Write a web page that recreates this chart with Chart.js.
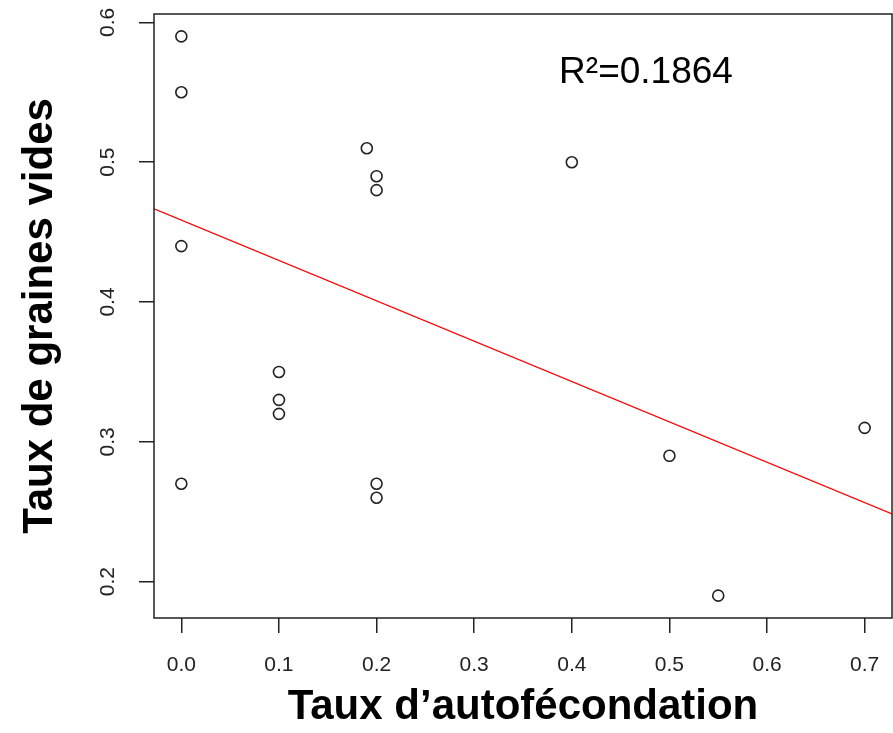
<!DOCTYPE html>
<html>
<head>
<meta charset="utf-8">
<script src="https://cdn.jsdelivr.net/npm/chart.js@4.4.1/dist/chart.umd.min.js"></script>
<style>
  body { margin: 0; background: #fff; }
</style>
</head>
<body>
<canvas id="scatter" width="893" height="733"></canvas>
<script>
// values
var selfing = [0, 0, 0, 0, 0.1, 0.1, 0.1, 0.19, 0.2, 0.2, 0.2, 0.2, 0.4, 0.5, 0.55, 0.7];
var emptySeeds = [0.59, 0.55, 0.44, 0.27, 0.35, 0.33, 0.32, 0.51, 0.49, 0.48, 0.27, 0.26, 0.5, 0.29, 0.19, 0.31];
var xTicks = [0, 0.1, 0.2, 0.3, 0.4, 0.5, 0.6, 0.7];
var yTicks = [0.2, 0.3, 0.4, 0.5, 0.6];
var fitIntercept = 0.4586;
var fitSlope = -0.2887;
var r2Text = "R\u00b2=0.1864";

// R style axis limits (data range + 4%)
var xMin = -0.028, xMax = 0.728;
var yMin = 0.174, yMax = 0.606;

var points = [];
for (var i = 0; i < selfing.length; i++) {
    points.push({x: selfing[i], y: emptySeeds[i]});
}
var fitLine = [
    {x: xMin, y: fitIntercept + fitSlope * xMin},
    {x: xMax, y: fitIntercept + fitSlope * xMax}
];

var boxAndLabel = {
    id: 'boxAndLabel',
    afterDraw: function(chart) {
        var ctx = chart.ctx, a = chart.chartArea;
        ctx.save();
        ctx.strokeStyle = '#222';
        ctx.lineWidth = 1.5;
        ctx.strokeRect(a.left, a.top, a.right - a.left, a.bottom - a.top);
        ctx.fillStyle = '#000';
        ctx.font = '37px "Liberation Sans", Arial, sans-serif';
        ctx.textAlign = 'center';
        ctx.textBaseline = 'alphabetic';
        ctx.fillText(r2Text, chart.scales.x.getPixelForValue(0.476), chart.scales.y.getPixelForValue(0.557));
        ctx.restore();
    }
};

// no extra room for overhanging tick labels, like R
function noLabelPadding(scale) {
    scale.paddingTop = 0;
    scale.paddingBottom = 0;
    scale.paddingLeft = 0;
    scale.paddingRight = 0;
}

var tickFont = {family: '"Liberation Sans", Arial, sans-serif', size: 21};

var ctx = document.getElementById("scatter");
var chart = new Chart(ctx, {
    type: 'scatter',
    data: {
        datasets: [{
            data: points,
            pointRadius: 5.5,
            pointBorderWidth: 1.6,
            pointBorderColor: '#222',
            pointBackgroundColor: 'rgba(0,0,0,0)',
            showLine: false
        }, {
            type: 'line',
            data: fitLine,
            borderColor: '#ff0000',
            borderWidth: 1.3,
            pointRadius: 0,
            fill: false
        }]
    },
    options: {
        responsive: false,
        animation: false,
        layout: {autoPadding: false, padding: {top: 14, right: 1, left: 0, bottom: 0}},
        plugins: {legend: {display: false}, tooltip: {enabled: false}},
        scales: {
            x: {
                type: 'linear',
                min: xMin,
                max: xMax,
                afterBuildTicks: function(scale) {
                    scale.ticks = xTicks.map(function(v) { return {value: v}; });
                },
                afterFit: function(scale) { scale.height = 115; noLabelPadding(scale); },
                grid: {drawOnChartArea: false, drawTicks: true, tickLength: 15, color: '#222', tickColor: '#222', lineWidth: 1.5},
                border: {display: false},
                ticks: {
                    font: tickFont,
                    color: '#222',
                    padding: 20,
                    maxRotation: 0,
                    callback: function(v) { return v.toFixed(1); }
                },
                title: {display: true, text: 'Taux d\u2019autof\u00e9condation', font: {family: '"Liberation Sans", Arial, sans-serif', size: 42, weight: 'bold'}, color: '#000', padding: {top: 0, bottom: 0}}
            },
            y: {
                type: 'linear',
                min: yMin,
                max: yMax,
                afterBuildTicks: function(scale) {
                    scale.ticks = yTicks.map(function(v) { return {value: v}; });
                },
                afterFit: function(scale) { scale.width = 154; noLabelPadding(scale); },
                grid: {drawOnChartArea: false, drawTicks: true, tickLength: 15, color: '#222', tickColor: '#222', lineWidth: 1.5},
                border: {display: false},
                ticks: {
                    font: tickFont,
                    color: '#222',
                    padding: 16,
                    minRotation: 90,
                    maxRotation: 90,
                    crossAlign: 'center',
                    callback: function(v) { return v.toFixed(1); }
                },
                title: {display: true, text: 'Taux de graines vides', font: {family: '"Liberation Sans", Arial, sans-serif', size: 42, weight: 'bold'}, color: '#000', padding: {top: 15, bottom: 0}}
            }
        }
    },
    plugins: [boxAndLabel]
});
</script>
</body>
</html>
